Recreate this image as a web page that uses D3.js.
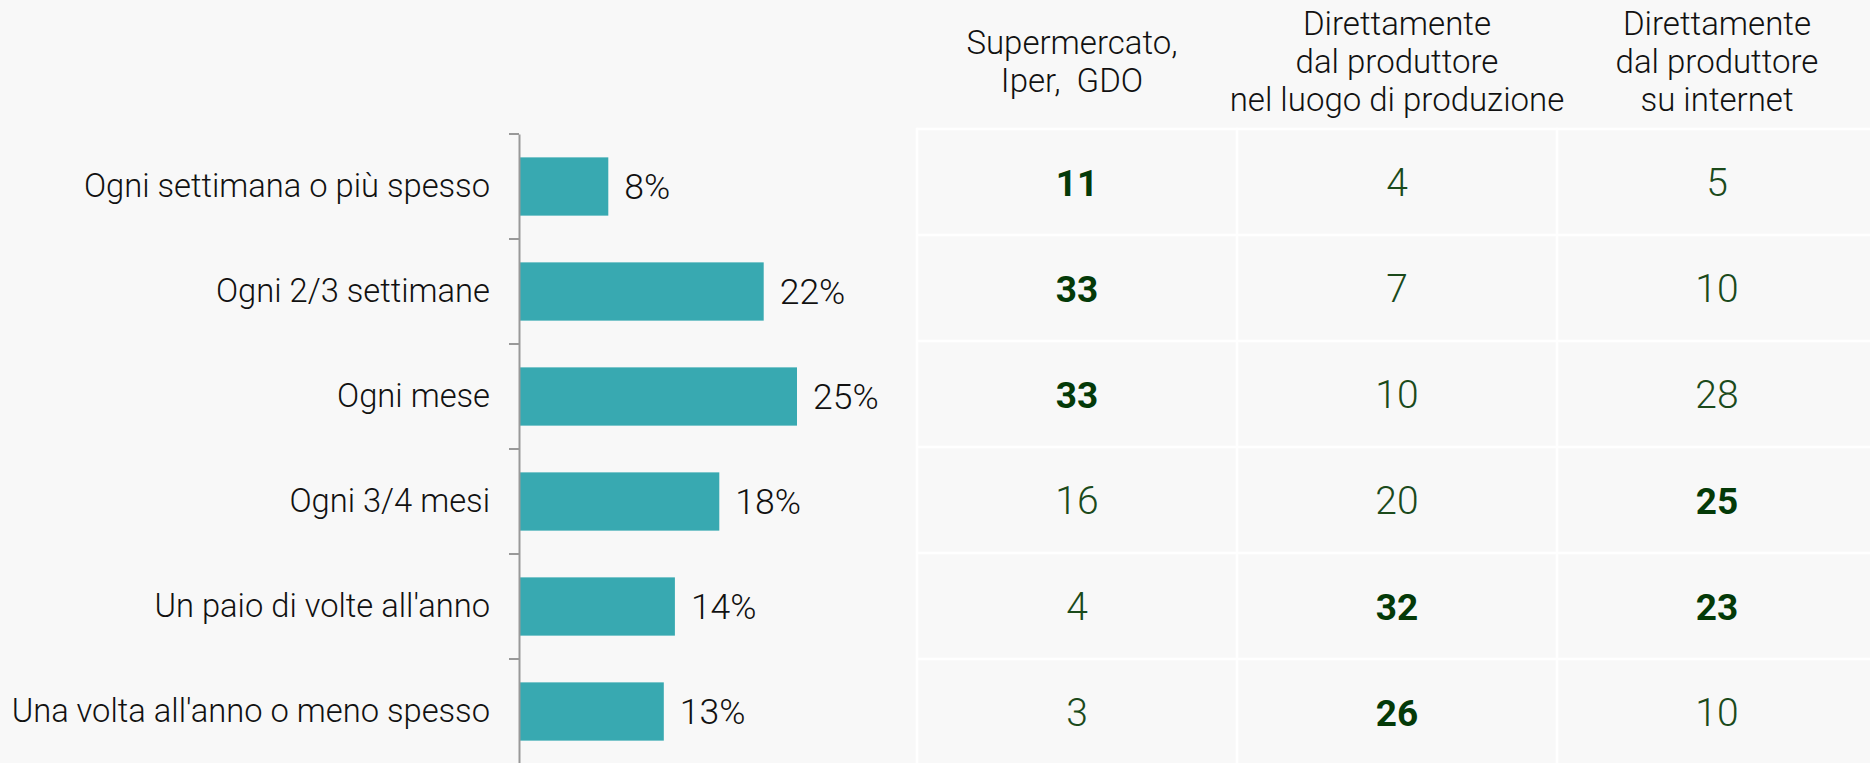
<!DOCTYPE html>
<html><head><meta charset="utf-8">
<script src="https://cdn.jsdelivr.net/npm/d3@7"></script>
<style>
html,body{margin:0;padding:0;background:#f8f8f8;}
svg{display:block;}
text{font-family:Roboto,"Liberation Sans",sans-serif;}
</style></head><body>
<svg id="chart" width="1870" height="763"></svg>
<script>
// ---- data ----
const categories = [
  "Ogni settimana o più spesso",
  "Ogni 2/3 settimane",
  "Ogni mese",
  "Ogni 3/4 mesi",
  "Un paio di volte all'anno",
  "Una volta all'anno o meno spesso"
];
const shares = [8, 22, 25, 18, 14, 13];
const columnHeaders = [
  ["Supermercato,", "Iper,  GDO"],
  ["Direttamente", "dal produttore", "nel luogo di produzione"],
  ["Direttamente", "dal produttore", "su internet"]
];
const supermercato = [11, 33, 33, 16, 4, 3];
const produttoreLuogo = [4, 7, 10, 20, 32, 26];
const produttoreInternet = [5, 10, 28, 25, 23, 10];
const highlightSupermercato = [true, true, true, false, false, false];
const highlightLuogo = [false, false, false, false, true, true];
const highlightInternet = [false, false, false, true, true, false];

// ---- setup ----
const svg = d3.select("#chart");
const W = 1870, H = 763;
svg.append("rect").attr("width", W).attr("height", H).attr("fill", "#f8f8f8");

const barColor = "#38a9b1";
const axisColor = "#999999";

// bar chart scales
const y = d3.scaleBand().domain(categories).range([134, 764]).paddingInner(0.445).paddingOuter(0.2225);
const x = d3.scaleLinear().domain([0, 25]).range([519.5, 797]);

const gBars = svg.append("g");
gBars.selectAll("rect.bar").data(categories).join("rect")
  .attr("class", "bar")
  .attr("x", x(0))
  .attr("y", d => y(d))
  .attr("width", (d, i) => x(shares[i]) - x(0))
  .attr("height", y.bandwidth())
  .attr("fill", barColor);

gBars.selectAll("text.val").data(categories).join("text")
  .attr("class", "val")
  .attr("x", (d, i) => x(shares[i]) + 16)
  .attr("y", d => y(d) + y.bandwidth() / 2 + 12.5)
  .attr("font-size", 35.5)
  .attr("font-weight", 300)
  .attr("fill", "#111")
  .text((d, i) => shares[i] + "%");

// axis with labels
const axis = d3.axisLeft(y).tickSize(0).tickPadding(29);
const gAxis = svg.append("g").attr("transform", `translate(${x(0) - 0.5},0)`).call(axis);
gAxis.select(".domain").attr("stroke", axisColor).attr("stroke-width", 2);
gAxis.selectAll(".tick text")
  .attr("font-size", 32.7)
  .attr("font-weight", 300)
  .attr("fill", "#111")
  .attr("font-family", "Roboto, 'Liberation Sans', sans-serif");

// ticks at band boundaries
const boundaries = d3.range(categories.length + 1).map(i => y.range()[0] + i * y.step());
gAxis.selectAll("line.bt").data(boundaries).join("line")
  .attr("class", "bt")
  .attr("x1", -10).attr("x2", 0)
  .attr("y1", d => d).attr("y2", d => d)
  .attr("stroke", axisColor).attr("stroke-width", 2);

// ---- table ----
const columns = [supermercato, produttoreLuogo, produttoreInternet];
const highlights = [highlightSupermercato, highlightLuogo, highlightInternet];
const colX = d3.scaleBand().domain(d3.range(3)).range([917, 1877]);
const rowY = d3.scaleBand().domain(d3.range(categories.length)).range([129, 765]);

const gTable = svg.append("g");
// grid lines
gTable.selectAll("line.h").data(d3.range(categories.length)).join("line")
  .attr("x1", colX(0)).attr("x2", W)
  .attr("y1", d => rowY(d)).attr("y2", d => rowY(d))
  .attr("stroke", "#ffffff").attr("stroke-width", 2.5);
gTable.selectAll("line.v").data(d3.range(3)).join("line")
  .attr("x1", d => colX(d)).attr("x2", d => colX(d))
  .attr("y1", rowY(0) - 1.25).attr("y2", H)
  .attr("stroke", "#ffffff").attr("stroke-width", 2.5);

// headers
const headerMid = 73, lineH = 38;
columnHeaders.forEach((lines, c) => {
  gTable.selectAll(null).data(lines).join("text")
    .attr("x", colX(c) + colX.bandwidth() / 2 - (c === 0 ? 5 : 0))
    .attr("y", (d, i) => headerMid + (i - (lines.length - 1) / 2) * lineH)
    .attr("text-anchor", "middle")
    .attr("font-size", 33)
    .attr("font-weight", 300)
    .attr("fill", "#111")
    .style("white-space", "pre")
    .text(d => d);
});

// numbers
columns.forEach((vals, c) => {
  gTable.selectAll(null).data(vals).join("text")
    .attr("x", colX(c) + colX.bandwidth() / 2)
    .attr("y", (d, r) => rowY(r) + rowY.bandwidth() / 2 + (highlights[c][r] ? 13.5 : 14))
    .attr("text-anchor", "middle")
    .attr("font-size", (d, r) => highlights[c][r] ? 37 : 39)
    .attr("font-weight", (d, r) => highlights[c][r] ? 700 : 300)
    .attr("fill", (d, r) => highlights[c][r] ? "#043a08" : "#1b4a1b")
    .text(d => d);
});
</script>
</body></html>
